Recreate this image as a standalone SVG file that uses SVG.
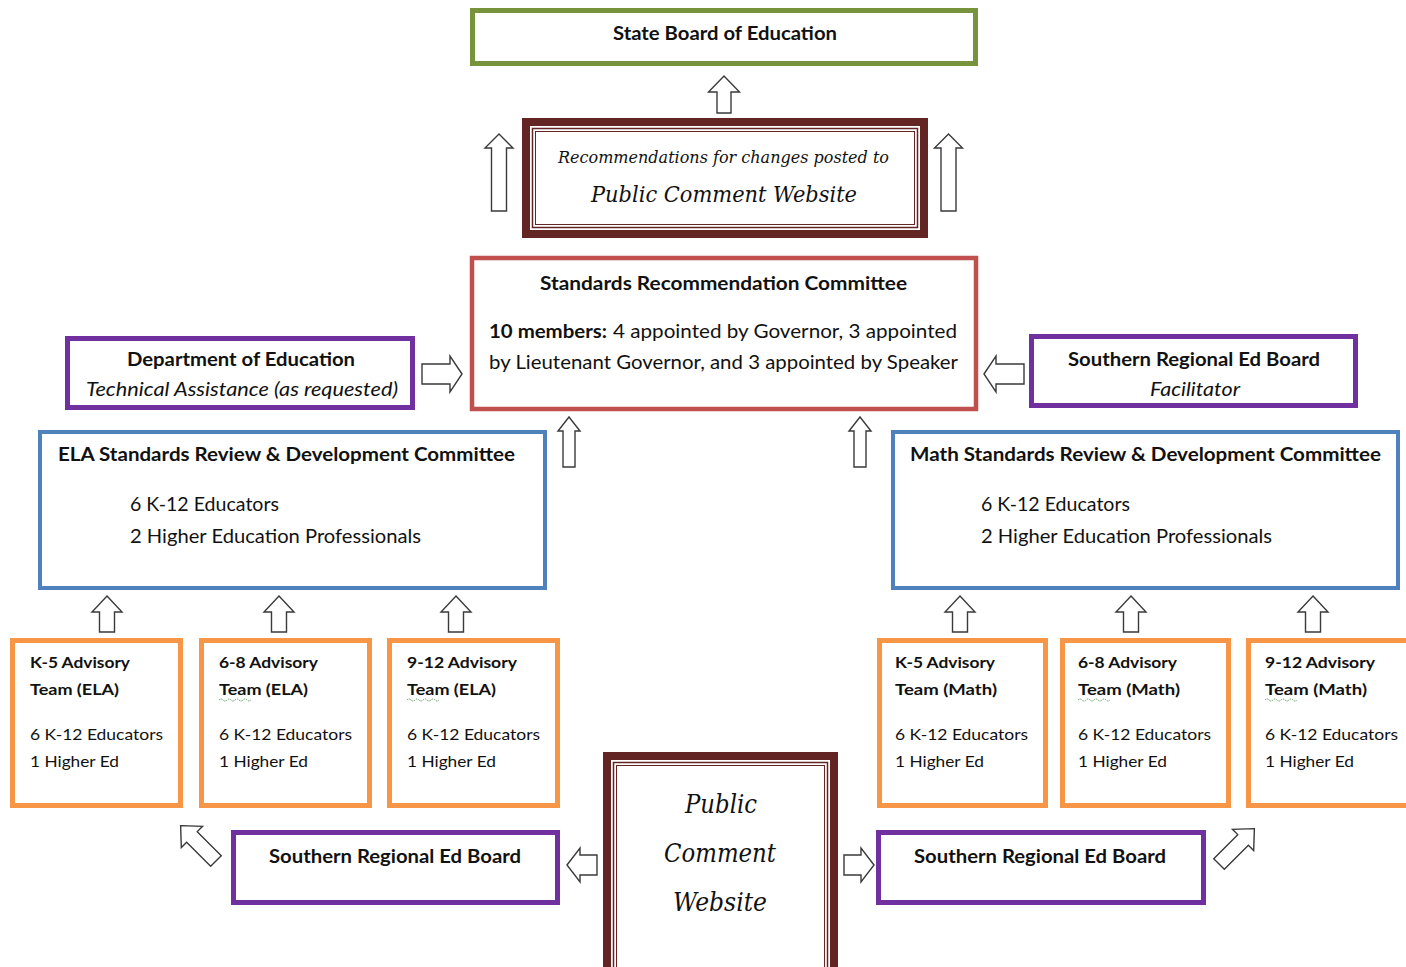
<svg xmlns="http://www.w3.org/2000/svg" width="1406" height="967" viewBox="0 0 1406 967">
<style>
  .box{fill:#fff}
  .green{stroke:#77933C;stroke-width:5}
  .red{stroke:#C0504D;stroke-width:4.5}
  .purple{stroke:#7030A0;stroke-width:5}
  .blue{stroke:#4F81BD;stroke-width:4}
  .orange{stroke:#F79646;stroke-width:5}
  .maroon{fill:none;stroke:#632523}
  .arrow{fill:#fff;stroke:#3a3a3a;stroke-width:1.4;stroke-linejoin:miter}
  .sq{fill:none;stroke:#5aa05a;stroke-width:1;stroke-dasharray:1.5 1}
  text{font-family:Lato,"Liberation Sans",sans-serif;fill:#111}
  .b{font-weight:bold}
  .it{font-style:italic}
  .t19{font-size:19px}
  .t16{font-size:16px}
  .serif{font-family:"DejaVu Serif","Liberation Serif",serif;font-style:italic}
</style>

<g id="connectors">
  <path class="arrow" d="M724,76 L739.5,92 L731,92 L731,113 L717,113 L717,92 L708.5,92 Z"/>
  <path class="arrow" d="M499,134 L513,148 L506.5,148 L506.5,211 L491.5,211 L491.5,148 L485,148 Z"/>
  <path class="arrow" d="M948.5,134 L962.5,148 L956,148 L956,211 L941,211 L941,148 L934.5,148 Z"/>
  <path class="arrow" d="M569,417 L580,431 L575,431 L575,467 L563,467 L563,431 L558,431 Z"/>
  <path class="arrow" d="M860,417 L871,431 L866,431 L866,467 L854,467 L854,431 L849,431 Z"/>
  <path class="arrow" d="M462,374 L450,356 L450,364 L422,364 L422,384 L450,384 L450,392 Z"/>
  <path class="arrow" d="M984,374 L996,356 L996,364 L1024,364 L1024,384 L996,384 L996,392 Z"/>
  <path class="arrow" d="M107,596 L122,612 L114.5,612 L114.5,632 L99.5,632 L99.5,612 L92,612 Z"/>
  <path class="arrow" d="M279,596 L294,612 L286.5,612 L286.5,632 L271.5,632 L271.5,612 L264,612 Z"/>
  <path class="arrow" d="M456,596 L471,612 L463.5,612 L463.5,632 L448.5,632 L448.5,612 L441,612 Z"/>
  <path class="arrow" d="M960,596 L975,612 L967.5,612 L967.5,632 L952.5,632 L952.5,612 L945,612 Z"/>
  <path class="arrow" d="M1131,596 L1146,612 L1138.5,612 L1138.5,632 L1123.5,632 L1123.5,612 L1116,612 Z"/>
  <path class="arrow" d="M1313,596 L1328,612 L1320.5,612 L1320.5,632 L1305.5,632 L1305.5,612 L1298,612 Z"/>
  <path class="arrow" d="M567,865 L580,848 L580,855 L597,855 L597,875 L580,875 L580,882 Z"/>
  <path class="arrow" d="M874,865 L861,848 L861,855 L844,855 L844,875 L861,875 L861,882 Z"/>
  <path class="arrow" transform="translate(199,844) rotate(-45)" d="M0,-26 L15,-10 L7.5,-10 L7.5,24 L-7.5,24 L-7.5,-10 L-15,-10 Z"/>
  <path class="arrow" transform="translate(1236,847) rotate(45)" d="M0,-26 L15,-10 L7.5,-10 L7.5,24 L-7.5,24 L-7.5,-10 L-15,-10 Z"/>
</g>

<g id="state-board">
  <rect class="box green" x="472.5" y="10.5" width="503" height="53"/>
  <text class="b t19" x="725" y="40" text-anchor="middle" textLength="224" lengthAdjust="spacingAndGlyphs">State Board of Education</text>
</g>

<g id="recommendations-website">
  <rect class="box" x="522" y="118" width="406" height="120"/>
  <rect class="maroon" x="526" y="122" width="398" height="112" stroke-width="8"/>
  <rect class="maroon" x="532.5" y="128.5" width="385" height="99" stroke-width="1.5"/>
  <rect class="maroon" x="535.5" y="131.5" width="379" height="93" stroke-width="1"/>
  <text class="serif" x="558" y="163" font-size="17" textLength="331" lengthAdjust="spacingAndGlyphs">Recommendations for changes posted to</text>
  <text class="serif" x="591" y="202" font-size="23" textLength="266" lengthAdjust="spacingAndGlyphs">Public Comment Website</text>
</g>

<g id="standards-recommendation-committee">
  <rect class="box red" x="472" y="258" width="504" height="151"/>
  <text class="b t19" x="540" y="290" textLength="367" lengthAdjust="spacingAndGlyphs">Standards Recommendation Committee</text>
  <text class="b t19" x="489" y="338" textLength="118" lengthAdjust="spacingAndGlyphs">10 members:</text>
  <text class="t19" x="613" y="338" textLength="344" lengthAdjust="spacingAndGlyphs">4 appointed by Governor, 3 appointed</text>
  <text class="t19" x="489" y="369" textLength="469" lengthAdjust="spacingAndGlyphs">by Lieutenant Governor, and 3 appointed by Speaker</text>
</g>

<g id="department-of-education">
  <rect class="box purple" x="67.5" y="338.5" width="345" height="69"/>
  <text class="b t19" x="127" y="366" textLength="228" lengthAdjust="spacingAndGlyphs">Department of Education</text>
  <text class="it t19" x="86" y="396" textLength="312" lengthAdjust="spacingAndGlyphs">Technical Assistance (as requested)</text>
</g>

<g id="sreb-facilitator">
  <rect class="box purple" x="1031.5" y="336.5" width="324" height="69"/>
  <text class="b t19" x="1068" y="366" textLength="252" lengthAdjust="spacingAndGlyphs">Southern Regional Ed Board</text>
  <text class="it t19" x="1150" y="396" textLength="90" lengthAdjust="spacingAndGlyphs">Facilitator</text>
</g>

<g id="ela-committee">
  <rect class="box blue" x="40" y="432" width="505" height="156"/>
  <text class="b t19" x="58" y="461" textLength="457" lengthAdjust="spacingAndGlyphs">ELA Standards Review &amp; Development Committee</text>
  <text class="t19" x="130" y="511" textLength="149" lengthAdjust="spacingAndGlyphs">6 K-12 Educators</text>
  <text class="t19" x="130" y="543" textLength="291" lengthAdjust="spacingAndGlyphs">2 Higher Education Professionals</text>
</g>

<g id="math-committee">
  <rect class="box blue" x="893" y="432" width="505" height="156"/>
  <text class="b t19" x="910" y="461" textLength="471" lengthAdjust="spacingAndGlyphs">Math Standards Review &amp; Development Committee</text>
  <text class="t19" x="981" y="511" textLength="149" lengthAdjust="spacingAndGlyphs">6 K-12 Educators</text>
  <text class="t19" x="981" y="543" textLength="291" lengthAdjust="spacingAndGlyphs">2 Higher Education Professionals</text>
</g>

<g id="ela-k5">
  <rect class="box orange" x="12.5" y="640.5" width="168" height="165"/>
  <text class="b t16" x="30" y="668" textLength="100" lengthAdjust="spacingAndGlyphs">K-5 Advisory</text>
  <text class="b t16" x="30" y="695" textLength="89" lengthAdjust="spacingAndGlyphs">Team (ELA)</text>
  <text class="t16" x="30" y="740" textLength="133" lengthAdjust="spacingAndGlyphs">6 K-12 Educators</text>
  <text class="t16" x="30" y="767" textLength="89" lengthAdjust="spacingAndGlyphs">1 Higher Ed</text>
</g>
<g id="ela-68">
  <rect class="box orange" x="201.5" y="640.5" width="168" height="165"/>
  <text class="b t16" x="219" y="668" textLength="99" lengthAdjust="spacingAndGlyphs">6-8 Advisory</text>
  <text class="b t16" x="219" y="695" textLength="89" lengthAdjust="spacingAndGlyphs">Team (ELA)</text>
  <path class="sq" d="M219,700 q2,-2 4,0 t4,0 t4,0 t4,0 t4,0 t4,0 t4,0 t4,0"/>
  <text class="t16" x="219" y="740" textLength="133" lengthAdjust="spacingAndGlyphs">6 K-12 Educators</text>
  <text class="t16" x="219" y="767" textLength="89" lengthAdjust="spacingAndGlyphs">1 Higher Ed</text>
</g>
<g id="ela-912">
  <rect class="box orange" x="389.5" y="640.5" width="168" height="165"/>
  <text class="b t16" x="407" y="668" textLength="110" lengthAdjust="spacingAndGlyphs">9-12 Advisory</text>
  <text class="b t16" x="407" y="695" textLength="89" lengthAdjust="spacingAndGlyphs">Team (ELA)</text>
  <path class="sq" d="M407,700 q2,-2 4,0 t4,0 t4,0 t4,0 t4,0 t4,0 t4,0 t4,0"/>
  <text class="t16" x="407" y="740" textLength="133" lengthAdjust="spacingAndGlyphs">6 K-12 Educators</text>
  <text class="t16" x="407" y="767" textLength="89" lengthAdjust="spacingAndGlyphs">1 Higher Ed</text>
</g>
<g id="math-k5">
  <rect class="box orange" x="879.5" y="640.5" width="166" height="165"/>
  <text class="b t16" x="895" y="668" textLength="100" lengthAdjust="spacingAndGlyphs">K-5 Advisory</text>
  <text class="b t16" x="895" y="695" textLength="102" lengthAdjust="spacingAndGlyphs">Team (Math)</text>
  <text class="t16" x="895" y="740" textLength="133" lengthAdjust="spacingAndGlyphs">6 K-12 Educators</text>
  <text class="t16" x="895" y="767" textLength="89" lengthAdjust="spacingAndGlyphs">1 Higher Ed</text>
</g>
<g id="math-68">
  <rect class="box orange" x="1062.5" y="640.5" width="166" height="165"/>
  <text class="b t16" x="1078" y="668" textLength="99" lengthAdjust="spacingAndGlyphs">6-8 Advisory</text>
  <text class="b t16" x="1078" y="695" textLength="102" lengthAdjust="spacingAndGlyphs">Team (Math)</text>
  <path class="sq" d="M1078,700 q2,-2 4,0 t4,0 t4,0 t4,0 t4,0 t4,0 t4,0 t4,0"/>
  <text class="t16" x="1078" y="740" textLength="133" lengthAdjust="spacingAndGlyphs">6 K-12 Educators</text>
  <text class="t16" x="1078" y="767" textLength="89" lengthAdjust="spacingAndGlyphs">1 Higher Ed</text>
</g>
<g id="math-912">
  <rect class="box orange" x="1248.5" y="640.5" width="200" height="165"/>
  <text class="b t16" x="1265" y="668" textLength="110" lengthAdjust="spacingAndGlyphs">9-12 Advisory</text>
  <text class="b t16" x="1265" y="695" textLength="102" lengthAdjust="spacingAndGlyphs">Team (Math)</text>
  <path class="sq" d="M1265,700 q2,-2 4,0 t4,0 t4,0 t4,0 t4,0 t4,0 t4,0 t4,0"/>
  <text class="t16" x="1265" y="740" textLength="133" lengthAdjust="spacingAndGlyphs">6 K-12 Educators</text>
  <text class="t16" x="1265" y="767" textLength="89" lengthAdjust="spacingAndGlyphs">1 Higher Ed</text>
</g>

<g id="sreb-left">
  <rect class="box purple" x="233.5" y="832.5" width="324" height="70"/>
  <text class="b t19" x="269" y="863" textLength="252" lengthAdjust="spacingAndGlyphs">Southern Regional Ed Board</text>
</g>
<g id="sreb-right">
  <rect class="box purple" x="878.5" y="832.5" width="325" height="70"/>
  <text class="b t19" x="914" y="863" textLength="252" lengthAdjust="spacingAndGlyphs">Southern Regional Ed Board</text>
</g>

<g id="public-comment-website">
  <rect class="box" x="603" y="752" width="235" height="230"/>
  <rect class="maroon" x="607" y="756" width="227" height="222" stroke-width="8"/>
  <rect class="maroon" x="613.5" y="762.5" width="214" height="209" stroke-width="1.5"/>
  <rect class="maroon" x="616.5" y="765.5" width="208" height="203" stroke-width="1"/>
  <text class="serif" x="721" y="813" font-size="26" text-anchor="middle" textLength="72" lengthAdjust="spacingAndGlyphs">Public</text>
  <text class="serif" x="720" y="862" font-size="26" text-anchor="middle" textLength="112" lengthAdjust="spacingAndGlyphs">Comment</text>
  <text class="serif" x="720" y="911" font-size="26" text-anchor="middle" textLength="94" lengthAdjust="spacingAndGlyphs">Website</text>
</g>
</svg>
